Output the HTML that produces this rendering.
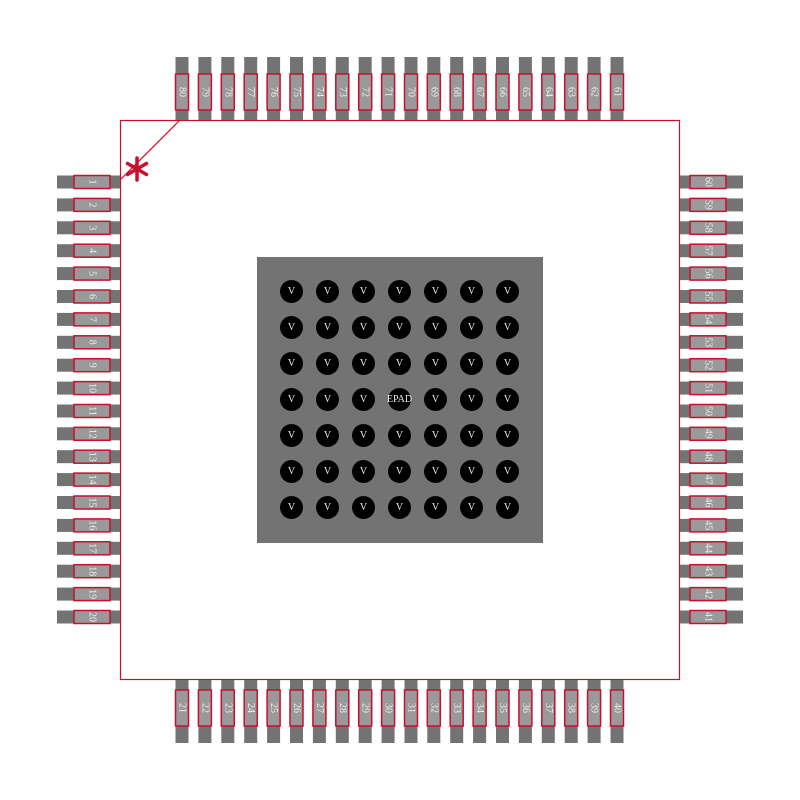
<!DOCTYPE html>
<html><head><style>body{margin:0;background:#fff}svg{display:block}text{font-family:"Liberation Serif",serif;font-size:10px;fill:#eee;text-anchor:middle;dominant-baseline:central}</style></head><body>
<svg width="800" height="800" viewBox="0 0 800 800">
<defs>
<g id="hp"><rect x="57" y="-6.5" width="63" height="13" fill="#737373"/><rect x="74" y="-6.5" width="36" height="13" fill="#999" stroke="#c8102e" stroke-width="1.5"/></g>
<g id="vp"><rect x="-6.5" y="57" width="13" height="63" fill="#737373"/><rect x="-6.5" y="74" width="13" height="36" fill="#999" stroke="#c8102e" stroke-width="1.5"/></g>
<g id="c"><circle r="11.5" fill="#000"/></g>
</defs>
<rect x="120.5" y="120.5" width="559" height="559" fill="#fff" stroke="#c8102e" stroke-width="1.2"/>
<line x1="180" y1="120" x2="120" y2="180" stroke="#c8102e" stroke-width="1.2"/>
<g stroke="#c8102e" stroke-width="3.5" stroke-linecap="round" transform="translate(137,169)">
<line x1="0" y1="-11" x2="0" y2="11"/><line x1="-9.5" y1="-5.5" x2="9.5" y2="5.5"/><line x1="-9.5" y1="5.5" x2="9.5" y2="-5.5"/>
</g>
<!-- left -->
<g transform="translate(0,182)"><use href="#hp"/><text transform="translate(92,0) rotate(90)">1</text></g>
<g transform="translate(0,204.9)"><use href="#hp"/><text transform="translate(92,0) rotate(90)">2</text></g>
<g transform="translate(0,227.8)"><use href="#hp"/><text transform="translate(92,0) rotate(90)">3</text></g>
<g transform="translate(0,250.7)"><use href="#hp"/><text transform="translate(92,0) rotate(90)">4</text></g>
<g transform="translate(0,273.6)"><use href="#hp"/><text transform="translate(92,0) rotate(90)">5</text></g>
<g transform="translate(0,296.5)"><use href="#hp"/><text transform="translate(92,0) rotate(90)">6</text></g>
<g transform="translate(0,319.4)"><use href="#hp"/><text transform="translate(92,0) rotate(90)">7</text></g>
<g transform="translate(0,342.3)"><use href="#hp"/><text transform="translate(92,0) rotate(90)">8</text></g>
<g transform="translate(0,365.2)"><use href="#hp"/><text transform="translate(92,0) rotate(90)">9</text></g>
<g transform="translate(0,388.1)"><use href="#hp"/><text transform="translate(92,0) rotate(90)">10</text></g>
<g transform="translate(0,411)"><use href="#hp"/><text transform="translate(92,0) rotate(90)">11</text></g>
<g transform="translate(0,433.8)"><use href="#hp"/><text transform="translate(92,0) rotate(90)">12</text></g>
<g transform="translate(0,456.7)"><use href="#hp"/><text transform="translate(92,0) rotate(90)">13</text></g>
<g transform="translate(0,479.6)"><use href="#hp"/><text transform="translate(92,0) rotate(90)">14</text></g>
<g transform="translate(0,502.5)"><use href="#hp"/><text transform="translate(92,0) rotate(90)">15</text></g>
<g transform="translate(0,525.4)"><use href="#hp"/><text transform="translate(92,0) rotate(90)">16</text></g>
<g transform="translate(0,548.3)"><use href="#hp"/><text transform="translate(92,0) rotate(90)">17</text></g>
<g transform="translate(0,571.2)"><use href="#hp"/><text transform="translate(92,0) rotate(90)">18</text></g>
<g transform="translate(0,594.1)"><use href="#hp"/><text transform="translate(92,0) rotate(90)">19</text></g>
<g transform="translate(0,617)"><use href="#hp"/><text transform="translate(92,0) rotate(90)">20</text></g>
<!-- right -->
<g transform="translate(800,182) scale(-1,1)"><use href="#hp"/></g><text transform="translate(708,182) rotate(90)">60</text>
<g transform="translate(800,204.9) scale(-1,1)"><use href="#hp"/></g><text transform="translate(708,204.9) rotate(90)">59</text>
<g transform="translate(800,227.8) scale(-1,1)"><use href="#hp"/></g><text transform="translate(708,227.8) rotate(90)">58</text>
<g transform="translate(800,250.7) scale(-1,1)"><use href="#hp"/></g><text transform="translate(708,250.7) rotate(90)">57</text>
<g transform="translate(800,273.6) scale(-1,1)"><use href="#hp"/></g><text transform="translate(708,273.6) rotate(90)">56</text>
<g transform="translate(800,296.5) scale(-1,1)"><use href="#hp"/></g><text transform="translate(708,296.5) rotate(90)">55</text>
<g transform="translate(800,319.4) scale(-1,1)"><use href="#hp"/></g><text transform="translate(708,319.4) rotate(90)">54</text>
<g transform="translate(800,342.3) scale(-1,1)"><use href="#hp"/></g><text transform="translate(708,342.3) rotate(90)">53</text>
<g transform="translate(800,365.2) scale(-1,1)"><use href="#hp"/></g><text transform="translate(708,365.2) rotate(90)">52</text>
<g transform="translate(800,388.1) scale(-1,1)"><use href="#hp"/></g><text transform="translate(708,388.1) rotate(90)">51</text>
<g transform="translate(800,411) scale(-1,1)"><use href="#hp"/></g><text transform="translate(708,411) rotate(90)">50</text>
<g transform="translate(800,433.8) scale(-1,1)"><use href="#hp"/></g><text transform="translate(708,433.8) rotate(90)">49</text>
<g transform="translate(800,456.7) scale(-1,1)"><use href="#hp"/></g><text transform="translate(708,456.7) rotate(90)">48</text>
<g transform="translate(800,479.6) scale(-1,1)"><use href="#hp"/></g><text transform="translate(708,479.6) rotate(90)">47</text>
<g transform="translate(800,502.5) scale(-1,1)"><use href="#hp"/></g><text transform="translate(708,502.5) rotate(90)">46</text>
<g transform="translate(800,525.4) scale(-1,1)"><use href="#hp"/></g><text transform="translate(708,525.4) rotate(90)">45</text>
<g transform="translate(800,548.3) scale(-1,1)"><use href="#hp"/></g><text transform="translate(708,548.3) rotate(90)">44</text>
<g transform="translate(800,571.2) scale(-1,1)"><use href="#hp"/></g><text transform="translate(708,571.2) rotate(90)">43</text>
<g transform="translate(800,594.1) scale(-1,1)"><use href="#hp"/></g><text transform="translate(708,594.1) rotate(90)">42</text>
<g transform="translate(800,617) scale(-1,1)"><use href="#hp"/></g><text transform="translate(708,617) rotate(90)">41</text>
<!-- top -->
<g transform="translate(182,0)"><use href="#vp"/><text transform="translate(0,92) rotate(90)">80</text></g>
<g transform="translate(204.9,0)"><use href="#vp"/><text transform="translate(0,92) rotate(90)">79</text></g>
<g transform="translate(227.8,0)"><use href="#vp"/><text transform="translate(0,92) rotate(90)">78</text></g>
<g transform="translate(250.7,0)"><use href="#vp"/><text transform="translate(0,92) rotate(90)">77</text></g>
<g transform="translate(273.6,0)"><use href="#vp"/><text transform="translate(0,92) rotate(90)">76</text></g>
<g transform="translate(296.5,0)"><use href="#vp"/><text transform="translate(0,92) rotate(90)">75</text></g>
<g transform="translate(319.4,0)"><use href="#vp"/><text transform="translate(0,92) rotate(90)">74</text></g>
<g transform="translate(342.3,0)"><use href="#vp"/><text transform="translate(0,92) rotate(90)">73</text></g>
<g transform="translate(365.2,0)"><use href="#vp"/><text transform="translate(0,92) rotate(90)">72</text></g>
<g transform="translate(388.1,0)"><use href="#vp"/><text transform="translate(0,92) rotate(90)">71</text></g>
<g transform="translate(411,0)"><use href="#vp"/><text transform="translate(0,92) rotate(90)">70</text></g>
<g transform="translate(433.8,0)"><use href="#vp"/><text transform="translate(0,92) rotate(90)">69</text></g>
<g transform="translate(456.7,0)"><use href="#vp"/><text transform="translate(0,92) rotate(90)">68</text></g>
<g transform="translate(479.6,0)"><use href="#vp"/><text transform="translate(0,92) rotate(90)">67</text></g>
<g transform="translate(502.5,0)"><use href="#vp"/><text transform="translate(0,92) rotate(90)">66</text></g>
<g transform="translate(525.4,0)"><use href="#vp"/><text transform="translate(0,92) rotate(90)">65</text></g>
<g transform="translate(548.3,0)"><use href="#vp"/><text transform="translate(0,92) rotate(90)">64</text></g>
<g transform="translate(571.2,0)"><use href="#vp"/><text transform="translate(0,92) rotate(90)">63</text></g>
<g transform="translate(594.1,0)"><use href="#vp"/><text transform="translate(0,92) rotate(90)">62</text></g>
<g transform="translate(617,0)"><use href="#vp"/><text transform="translate(0,92) rotate(90)">61</text></g>
<!-- bottom -->
<g transform="translate(182,800) scale(1,-1)"><use href="#vp"/></g><text transform="translate(182,708) rotate(90)">21</text>
<g transform="translate(204.9,800) scale(1,-1)"><use href="#vp"/></g><text transform="translate(204.9,708) rotate(90)">22</text>
<g transform="translate(227.8,800) scale(1,-1)"><use href="#vp"/></g><text transform="translate(227.8,708) rotate(90)">23</text>
<g transform="translate(250.7,800) scale(1,-1)"><use href="#vp"/></g><text transform="translate(250.7,708) rotate(90)">24</text>
<g transform="translate(273.6,800) scale(1,-1)"><use href="#vp"/></g><text transform="translate(273.6,708) rotate(90)">25</text>
<g transform="translate(296.5,800) scale(1,-1)"><use href="#vp"/></g><text transform="translate(296.5,708) rotate(90)">26</text>
<g transform="translate(319.4,800) scale(1,-1)"><use href="#vp"/></g><text transform="translate(319.4,708) rotate(90)">27</text>
<g transform="translate(342.3,800) scale(1,-1)"><use href="#vp"/></g><text transform="translate(342.3,708) rotate(90)">28</text>
<g transform="translate(365.2,800) scale(1,-1)"><use href="#vp"/></g><text transform="translate(365.2,708) rotate(90)">29</text>
<g transform="translate(388.1,800) scale(1,-1)"><use href="#vp"/></g><text transform="translate(388.1,708) rotate(90)">30</text>
<g transform="translate(411,800) scale(1,-1)"><use href="#vp"/></g><text transform="translate(411,708) rotate(90)">31</text>
<g transform="translate(433.8,800) scale(1,-1)"><use href="#vp"/></g><text transform="translate(433.8,708) rotate(90)">32</text>
<g transform="translate(456.7,800) scale(1,-1)"><use href="#vp"/></g><text transform="translate(456.7,708) rotate(90)">33</text>
<g transform="translate(479.6,800) scale(1,-1)"><use href="#vp"/></g><text transform="translate(479.6,708) rotate(90)">34</text>
<g transform="translate(502.5,800) scale(1,-1)"><use href="#vp"/></g><text transform="translate(502.5,708) rotate(90)">35</text>
<g transform="translate(525.4,800) scale(1,-1)"><use href="#vp"/></g><text transform="translate(525.4,708) rotate(90)">36</text>
<g transform="translate(548.3,800) scale(1,-1)"><use href="#vp"/></g><text transform="translate(548.3,708) rotate(90)">37</text>
<g transform="translate(571.2,800) scale(1,-1)"><use href="#vp"/></g><text transform="translate(571.2,708) rotate(90)">38</text>
<g transform="translate(594.1,800) scale(1,-1)"><use href="#vp"/></g><text transform="translate(594.1,708) rotate(90)">39</text>
<g transform="translate(617,800) scale(1,-1)"><use href="#vp"/></g><text transform="translate(617,708) rotate(90)">40</text>
<!-- epad -->
<rect x="257" y="257" width="286" height="286" fill="#737373"/>
<g>
<use href="#c" x="291.5" y="291.5"/><use href="#c" x="327.5" y="291.5"/><use href="#c" x="363.5" y="291.5"/><use href="#c" x="399.5" y="291.5"/><use href="#c" x="435.5" y="291.5"/><use href="#c" x="471.5" y="291.5"/><use href="#c" x="507.5" y="291.5"/>
<use href="#c" x="291.5" y="327.5"/><use href="#c" x="327.5" y="327.5"/><use href="#c" x="363.5" y="327.5"/><use href="#c" x="399.5" y="327.5"/><use href="#c" x="435.5" y="327.5"/><use href="#c" x="471.5" y="327.5"/><use href="#c" x="507.5" y="327.5"/>
<use href="#c" x="291.5" y="363.5"/><use href="#c" x="327.5" y="363.5"/><use href="#c" x="363.5" y="363.5"/><use href="#c" x="399.5" y="363.5"/><use href="#c" x="435.5" y="363.5"/><use href="#c" x="471.5" y="363.5"/><use href="#c" x="507.5" y="363.5"/>
<use href="#c" x="291.5" y="399.5"/><use href="#c" x="327.5" y="399.5"/><use href="#c" x="363.5" y="399.5"/><use href="#c" x="399.5" y="399.5"/><use href="#c" x="435.5" y="399.5"/><use href="#c" x="471.5" y="399.5"/><use href="#c" x="507.5" y="399.5"/>
<use href="#c" x="291.5" y="435.5"/><use href="#c" x="327.5" y="435.5"/><use href="#c" x="363.5" y="435.5"/><use href="#c" x="399.5" y="435.5"/><use href="#c" x="435.5" y="435.5"/><use href="#c" x="471.5" y="435.5"/><use href="#c" x="507.5" y="435.5"/>
<use href="#c" x="291.5" y="471.5"/><use href="#c" x="327.5" y="471.5"/><use href="#c" x="363.5" y="471.5"/><use href="#c" x="399.5" y="471.5"/><use href="#c" x="435.5" y="471.5"/><use href="#c" x="471.5" y="471.5"/><use href="#c" x="507.5" y="471.5"/>
<use href="#c" x="291.5" y="507.5"/><use href="#c" x="327.5" y="507.5"/><use href="#c" x="363.5" y="507.5"/><use href="#c" x="399.5" y="507.5"/><use href="#c" x="435.5" y="507.5"/><use href="#c" x="471.5" y="507.5"/><use href="#c" x="507.5" y="507.5"/>
</g>
<g>
<text x="291.5" y="291.5">V</text><text x="327.5" y="291.5">V</text><text x="363.5" y="291.5">V</text><text x="399.5" y="291.5">V</text><text x="435.5" y="291.5">V</text><text x="471.5" y="291.5">V</text><text x="507.5" y="291.5">V</text>
<text x="291.5" y="327.5">V</text><text x="327.5" y="327.5">V</text><text x="363.5" y="327.5">V</text><text x="399.5" y="327.5">V</text><text x="435.5" y="327.5">V</text><text x="471.5" y="327.5">V</text><text x="507.5" y="327.5">V</text>
<text x="291.5" y="363.5">V</text><text x="327.5" y="363.5">V</text><text x="363.5" y="363.5">V</text><text x="399.5" y="363.5">V</text><text x="435.5" y="363.5">V</text><text x="471.5" y="363.5">V</text><text x="507.5" y="363.5">V</text>
<text x="291.5" y="399.5">V</text><text x="327.5" y="399.5">V</text><text x="363.5" y="399.5">V</text><text x="399.5" y="399.5">EPAD</text><text x="435.5" y="399.5">V</text><text x="471.5" y="399.5">V</text><text x="507.5" y="399.5">V</text>
<text x="291.5" y="435.5">V</text><text x="327.5" y="435.5">V</text><text x="363.5" y="435.5">V</text><text x="399.5" y="435.5">V</text><text x="435.5" y="435.5">V</text><text x="471.5" y="435.5">V</text><text x="507.5" y="435.5">V</text>
<text x="291.5" y="471.5">V</text><text x="327.5" y="471.5">V</text><text x="363.5" y="471.5">V</text><text x="399.5" y="471.5">V</text><text x="435.5" y="471.5">V</text><text x="471.5" y="471.5">V</text><text x="507.5" y="471.5">V</text>
<text x="291.5" y="507.5">V</text><text x="327.5" y="507.5">V</text><text x="363.5" y="507.5">V</text><text x="399.5" y="507.5">V</text><text x="435.5" y="507.5">V</text><text x="471.5" y="507.5">V</text><text x="507.5" y="507.5">V</text>
</g>
</svg>
</body></html>
